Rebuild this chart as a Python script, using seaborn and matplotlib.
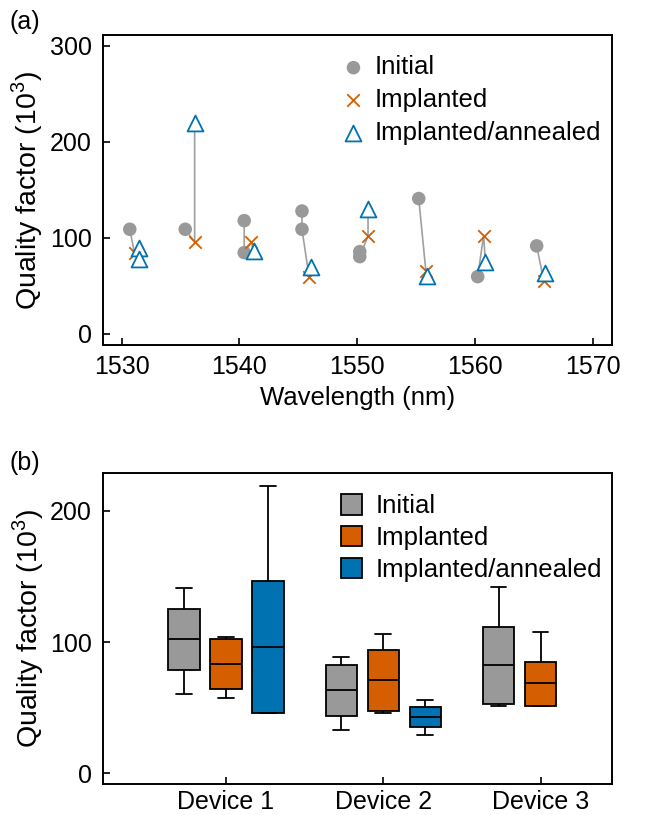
import numpy as np
import pandas as pd
import matplotlib
matplotlib.use("Agg")
import matplotlib.pyplot as plt
import seaborn as sns

# --- panel (a): resonances, each group = one resonance tracked through the steps
grp = [1, 1, 1, 1,
       2, 2, 2,
       3, 3, 3, 3,
       4, 4, 4, 4,
       5, 5, 5, 5,
       6, 6, 6,
       7, 7, 7,
       8, 8, 8]
state = ["Initial", "Implanted", "Implanted/annealed", "Implanted/annealed",
         "Initial", "Implanted", "Implanted/annealed",
         "Initial", "Initial", "Implanted", "Implanted/annealed",
         "Initial", "Initial", "Implanted", "Implanted/annealed",
         "Initial", "Initial", "Implanted", "Implanted/annealed",
         "Initial", "Implanted", "Implanted/annealed",
         "Initial", "Implanted", "Implanted/annealed",
         "Initial", "Implanted", "Implanted/annealed"]
wavelength = [1530.7, 1531.1, 1531.5, 1531.5,
              1535.4, 1536.2, 1536.2,
              1540.4, 1540.4, 1541.0, 1541.2,
              1545.3, 1545.3, 1545.9, 1546.1,
              1550.2, 1550.2, 1550.9, 1550.9,
              1555.2, 1555.8, 1555.9,
              1560.2, 1560.7, 1560.85,
              1565.2, 1565.8, 1565.9]
qfactor = [109, 84, 90, 78,
           109, 95.5, 220,
           118, 84.7, 95.5, 86.8,
           128, 109, 59.7, 70,
           85.7, 80.5, 102, 130,
           141, 66, 60.8,
           59.7, 102.4, 75.3,
           91.7, 55.5, 63]

# --- panel (b): five-number summaries (min, q1, median, q3, max) per box
devices = ["Device 1", "Device 2", "Device 3"]
states = ["Initial", "Implanted", "Implanted/annealed"]
box_initial = [[60.4, 78.7, 102.1, 125.2, 141.5],
               [33.0, 43.9, 63.7, 82.8, 88.9],
               [51.0, 52.8, 82.3, 111.5, 142.0]]
box_implanted = [[57.6, 64.3, 83.3, 102.6, 103.6],
                 [45.7, 47.5, 71.1, 94.0, 106.4],
                 [51.5, 51.5, 68.6, 85.1, 107.7]]
box_annealed = [[46.0, 46.0, 96.3, 146.6, 219.2],
                [29.0, 35.5, 43.2, 50.8, 55.9],
                None]

colors = {"Initial": "#999999", "Implanted": "#D55E00", "Implanted/annealed": "#0072B2"}


def main():
    sns.set_style("ticks")
    plt.rcParams["font.family"] = ["Liberation Sans", "DejaVu Sans"]
    plt.rcParams["mathtext.fontset"] = "custom"
    plt.rcParams["mathtext.rm"] = "Liberation Sans"
    plt.rcParams["axes.linewidth"] = 1.4
    for k in ["text.color", "axes.labelcolor", "xtick.color", "ytick.color", "axes.edgecolor"]:
        plt.rcParams[k] = "black"
    fs = 18.5
    tfs = 18

    fig = plt.figure(figsize=(6.54, 8.15), dpi=100)
    ax1 = fig.add_axes([0.157, 0.5767, 0.779, 0.380])
    ax2 = fig.add_axes([0.157, 0.0377, 0.779, 0.3816])

    # ---------- (a)
    df = pd.DataFrame({"grp": grp, "state": state, "wl": wavelength, "q": qfactor})
    sns.lineplot(data=df, x="wl", y="q", units="grp", estimator=None, sort=False,
                 color="#a0a0a0", linewidth=1.2, ax=ax1, legend=False, zorder=1)
    d = df[df.state == "Initial"]
    sns.scatterplot(data=d, x="wl", y="q", marker="o", s=95, color=colors["Initial"],
                    edgecolor="none", ax=ax1, label="Initial", zorder=2)
    d = df[df.state == "Implanted"]
    sns.scatterplot(data=d, x="wl", y="q", marker="x", s=80, color=colors["Implanted"],
                    linewidth=1.3, ax=ax1, label="Implanted", zorder=3)
    d = df[df.state == "Implanted/annealed"]
    sns.scatterplot(data=d, x="wl", y="q", marker="^", s=130, facecolor="white",
                    edgecolor=colors["Implanted/annealed"], linewidth=1.3, ax=ax1,
                    label="Implanted/annealed", zorder=4)

    ax1.set_xlim(1528.4, 1571.6)
    ax1.set_ylim(-11.5, 311)
    ax1.set_xticks([1530, 1540, 1550, 1560, 1570])
    ax1.set_yticks([0, 100, 200, 300])
    ax1.set_xlabel("Wavelength (nm)", fontsize=fs, labelpad=5)
    ax1.set_ylabel("Quality factor (10$^3$)", fontsize=fs + 2, labelpad=3)
    ax1.tick_params(direction="in", length=5, width=1.2, labelsize=tfs, top=False, right=False)
    ax1.tick_params(axis="x", pad=7)
    ax1.tick_params(axis="y", pad=8)
    for sp in ax1.spines.values():
        sp.set_visible(True)
    ax1.legend(loc="upper left", bbox_to_anchor=(0.467, 0.935), frameon=False,
               fontsize=fs, handlelength=1.0, handletextpad=0.32, labelspacing=0.34,
               borderpad=0, borderaxespad=0)

    # ---------- (b)
    rows = []
    for name, boxes in zip(states, [box_initial, box_implanted, box_annealed]):
        for dev, vals in zip(devices, boxes):
            if vals is None:
                continue
            for v in vals:
                rows.append({"device": dev, "state": name, "q": v})
    bdf = pd.DataFrame(rows)
    sns.boxplot(data=bdf, x="device", y="q", hue="state", order=devices, hue_order=states,
                palette=colors, saturation=1, width=0.8, gap=0.25, whis=np.inf,
                linecolor="black", linewidth=1.3, ax=ax2)
    ax2.set_xlim(-0.784, 2.455)
    ax2.set_ylim(-8.4, 228.7)
    ax2.set_yticks([0, 100, 200])
    ax2.set_xlabel("")
    ax2.set_ylabel("Quality factor (10$^3$)", fontsize=fs + 2, labelpad=3)
    ax2.tick_params(direction="in", length=5, width=1.2, labelsize=tfs, top=False, right=False)
    ax2.tick_params(axis="x", pad=4)
    ax2.tick_params(axis="y", pad=8)
    for sp in ax2.spines.values():
        sp.set_visible(True)
    sns.move_legend(ax2, loc="upper left", bbox_to_anchor=(0.467, 0.933), title=None,
                    frameon=False, fontsize=fs, handlelength=0.85, handleheight=0.85,
                    handletextpad=0.5, labelspacing=0.3, borderpad=0, borderaxespad=0)

    fig.text(0.015, 0.973, "(a)", fontsize=tfs, va="center", ha="left")
    fig.text(0.015, 0.432, "(b)", fontsize=tfs, va="center", ha="left")

    fig.savefig("out.png", dpi=100)


if __name__ == "__main__":
    main()
